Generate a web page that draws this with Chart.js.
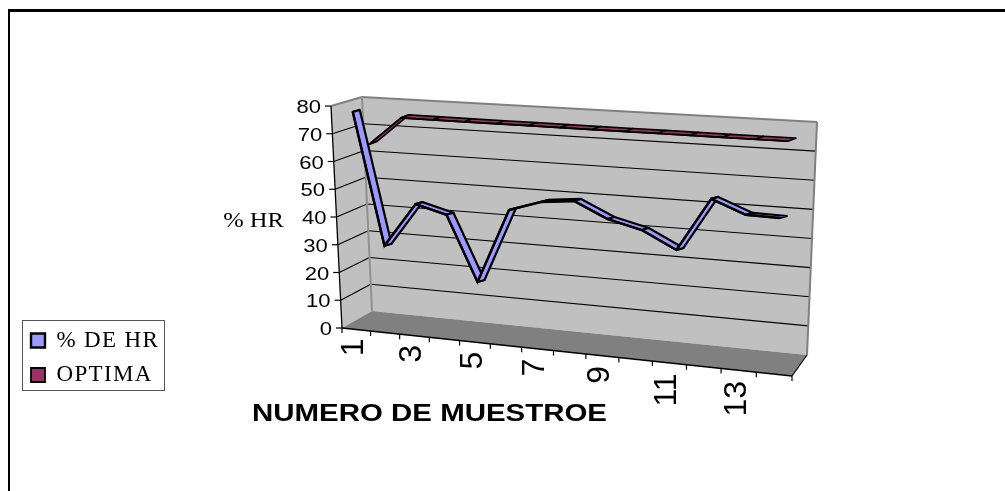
<!DOCTYPE html>
<html><head><meta charset="utf-8">
<style>
html,body{margin:0;padding:0;background:#fff;overflow:hidden}
#frame{position:absolute;left:8px;top:9px;width:997px;height:482px;border-top:3px solid #000;border-left:2px solid #000;box-sizing:border-box}
canvas{position:absolute;left:0;top:0}
</style>
<script src="https://cdn.jsdelivr.net/npm/chart.js@4"></script>
</head><body>
<div id="frame"></div>
<canvas id="c" width="1005" height="491" style="width:1005px;height:491px"></canvas>
<script>
const categories = ["1","2","3","4","5","6","7","8","9","10","11","12","13","14"];
const xTickLabels = ["1","","3","","5","","7","","9","","11","","13",""];
const humidity = [77.5,30,45.9,43,20.2,46.5,50.2,51.4,46,43.1,37.2,55.4,50.8,50.6];
const optimal = [64.5,75,75,75,75,75,75,75,75,75,75,75,75,75];
const seriesNames = ["% DE HR","OPTIMA"];
const xTitle = "NUMERO DE MUESTROE";
const yTitle = "% HR";

// 3-D box geometry of the picture
const FTL=[331,106],FBL=[342,328],FBR=[792,376],BTL=[362,97],BBL=[372,311],BTR=[817,122],BBR=[807,355];
const planes=[
 {x0:340,xw:460,bow:9,y0L:323,y0R:370,tL:103,tR:130,depth:[7,-2],edge:2.2},
 {x0:357,xw:451,bow:2,y0L:316,y0R:361,tL:100,tR:126,depth:[8,-3],edge:1.7}
];
const lerp=(a,b,t)=>[a[0]+(b[0]-a[0])*t,a[1]+(b[1]-a[1])*t];
const floorS=u=>u*(0.88+0.12*u);

function stretched(ctx,text,x,y,sx,font,align,rot){
  ctx.save();ctx.translate(x,y);if(rot)ctx.rotate(rot);ctx.scale(sx,1);
  ctx.font=font;ctx.textAlign=align;ctx.textBaseline='alphabetic';ctx.fillStyle='#000';
  ctx.fillText(text,0,0);ctx.restore();
}
function poly(ctx,pts,fill,stroke,lw){
  ctx.beginPath();pts.forEach((p,i)=>i?ctx.lineTo(p[0],p[1]):ctx.moveTo(p[0],p[1]));ctx.closePath();
  if(fill){ctx.fillStyle=fill;ctx.fill();}
  if(stroke){ctx.strokeStyle=stroke;ctx.lineWidth=lw;ctx.stroke();}
}
function seg(ctx,a,b,c,w){ctx.beginPath();ctx.moveTo(a[0],a[1]);ctx.lineTo(b[0],b[1]);ctx.strokeStyle=c;ctx.lineWidth=w;ctx.stroke();}

const box3d={
 id:'box3d',
 afterLayout(chart){
   const l=chart.legend;
   l.left=19.5;l.top=317.5;l.right=165;l.bottom=488;
   if(!l._wrapped){
     const d=l.draw.bind(l);
     l.draw=function(){const c=chart.ctx;c.save();c.letterSpacing='1.35px';d();c.restore();};
     l._wrapped=true;
   }
 },
 afterDatasetsUpdate(chart){
   const a=chart.chartArea;
   chart.data.datasets.forEach((ds,k)=>{
     const p=planes[k];
     chart.getDatasetMeta(k).data.forEach(el=>{
       const u=(el.x-a.left)/(a.right-a.left),v=(a.bottom-el.y)/(a.bottom-a.top);
       const y0=p.y0L+(p.y0R-p.y0L)*u,t=p.tL+(p.tR-p.tL)*u,w=4*u*(1-u);
       el.x=p.x0+p.xw*u-p.bow*w*w-p.depth[0]/2;
       el.y=y0+(t-y0)*v-p.depth[1]/2;
     });
   });
 },
 beforeDatasetsDraw(chart){
   const ctx=chart.ctx,a=chart.chartArea,ys=chart.scales.y,xs=chart.scales.x;
   ctx.save();ctx.lineJoin='miter';
   // walls and floor
   poly(ctx,[FBL,FTL,BTL,BBL],'#C0C0C0');
   poly(ctx,[BBL,BTL,BTR,BBR],'#C0C0C0');
   poly(ctx,[FBL,BBL,BBR,FBR],'#808080');
   // grid and value ticks
   ys.ticks.forEach(t=>{
     const v=(a.bottom-ys.getPixelForValue(t.value))/(a.bottom-a.top);
     const f=lerp(FBL,FTL,v),bl=lerp(BBL,BTL,v),br=lerp(BBR,BTR,v);
     if(v>0&&v<1){seg(ctx,f,bl,'#000',1.2);seg(ctx,bl,br,'#000',1.2);}
     seg(ctx,[f[0]-6,f[1]],f,'#000',1.2);
     stretched(ctx,String(t.value),f[0]-10,f[1]+7,1.16,'19px "Liberation Sans"','right');
   });
   // wall edges
   seg(ctx,FTL,BTL,'#808080',2);
   seg(ctx,BTL,BTR,'#808080',2);
   seg(ctx,BTL,BBL,'#909090',2);
   seg(ctx,BTR,BBR,'#808080',2);
   seg(ctx,FBR,BBR,'#000',1.2);
   // axis lines
   seg(ctx,FTL,FBL,'#000',1.3);
   seg(ctx,FBL,FBR,'#000',1.6);
   // category ticks and labels
   const n=xs.ticks.length;
   for(let i=0;i<=n;i++){
     const p=lerp(FBL,FBR,floorS(i/n));
     seg(ctx,p,[p[0],p[1]+5],'#000',1.2);
   }
   xs.ticks.forEach((t,i)=>{
     const lab=xTickLabels[i]; if(!lab) return;
     const p=lerp(FBL,FBR,floorS((i+0.5)/n));
     stretched(ctx,lab,p[0]-4.5+11.5,p[1]+9+2*i/n,1,'32px "Liberation Sans"','right',-Math.PI/2);
   });
   // axis titles
   stretched(ctx,xTitle,429.5,420.5,1.28,'bold 23px "Liberation Sans"','center');
   stretched(ctx,yTitle,253.5,227,1.17,'21px "Liberation Serif"','center');
   ctx.restore();
 },
 beforeDatasetDraw(chart,args){
   const ctx=chart.ctx,meta=args.meta,ds=chart.data.datasets[args.index],pts=meta.data,p=planes[args.index];
   ctx.save();ctx.lineJoin='round';
   for(let i=0;i<pts.length-1;i++){
     const a=[pts[i].x,pts[i].y],b=[pts[i+1].x,pts[i+1].y];
     const c=[b[0]+p.depth[0],b[1]+p.depth[1]],d=[a[0]+p.depth[0],a[1]+p.depth[1]];
     poly(ctx,[a,b,c,d],ds.backgroundColor,'#000',p.edge);
   }
   ctx.restore();
 },
 afterDraw(chart){
   const ctx=chart.ctx;ctx.save();
   ctx.strokeStyle='#555';ctx.lineWidth=1;ctx.strokeRect(22.5,320.5,142,70);
   ctx.restore();
 }
};

new Chart(document.getElementById('c'),{
 type:'line',
 data:{labels:categories,datasets:[
   {label:seriesNames[0],data:humidity,borderColor:'#000',backgroundColor:'#9999FF',borderWidth:2.4,pointRadius:0,tension:0,clip:false},
   {label:seriesNames[1],data:optimal,borderColor:'#000',backgroundColor:'#993366',borderWidth:1.8,pointRadius:0,tension:0,clip:false}
 ]},
 plugins:[box3d],
 options:{
  responsive:false,animation:false,devicePixelRatio:1,
  layout:{padding:{left:342,right:213,top:106,bottom:163}},
  plugins:{
   legend:{position:'chartArea',align:'start',
    labels:{boxWidth:14,boxHeight:14,padding:11.5,color:'#000',font:{family:'"Liberation Serif"',size:23}}},
   tooltip:{enabled:false},title:{display:false}
  },
  scales:{
   x:{type:'category',display:false,offset:true,ticks:{autoSkip:false}},
   y:{type:'linear',display:false,min:0,max:80,ticks:{stepSize:10}}
  }
 }
});
</script>
</body></html>
